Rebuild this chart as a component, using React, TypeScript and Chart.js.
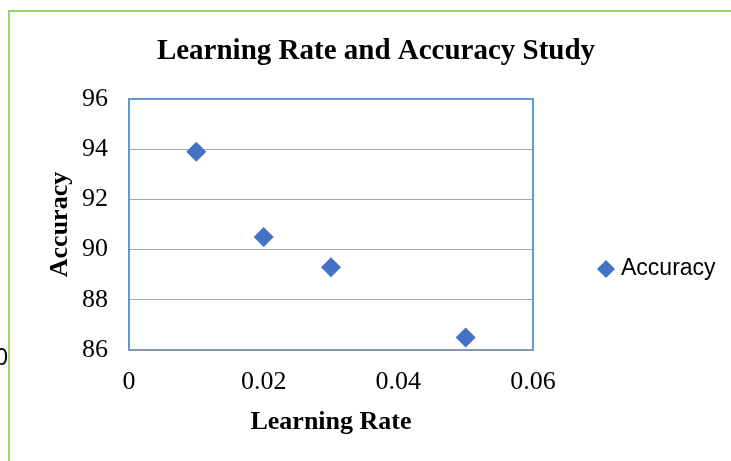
import React, { useEffect, useRef } from "react";
import { Chart, registerables } from "chart.js";

Chart.register(...registerables);

const titleText = "Learning Rate and Accuracy Study";
const xAxisTitle = "Learning Rate";
const yAxisTitle = "Accuracy";
const seriesName = "Accuracy";
const learningRates = [0.01, 0.02, 0.03, 0.05];
const accuracies = [93.9, 90.5, 89.3, 86.5];
const xTicks = [0, 0.02, 0.04, 0.06];
const yTicks = [86, 88, 90, 92, 94, 96];
const strayLabel = "0";

const W = 731;
const H = 461;
const MARKER = "#4472C4";
const SERIF = "'Liberation Serif', 'Times New Roman', serif";
const SANS = "'Liberation Sans', Arial, sans-serif";

const decorPlugin = {
  id: "decor",
  beforeDraw(chart: any) {
    const { ctx } = chart;
    ctx.save();
    ctx.fillStyle = "#ffffff";
    ctx.fillRect(0, 0, W, H);
    ctx.restore();
  },
  afterDraw(chart: any) {
    const { ctx, chartArea: a } = chart;
    ctx.save();
    // title, centred on the whole frame
    ctx.fillStyle = "#000000";
    ctx.font = `bold 29px ${SERIF}`;
    ctx.textAlign = "center";
    ctx.textBaseline = "middle";
    ctx.fillText(titleText, 376, 52);

    // plot border
    ctx.strokeStyle = "#5B9BD5";
    ctx.lineWidth = 2;
    ctx.beginPath();
    ctx.moveTo(a.left, a.bottom);
    ctx.lineTo(a.left, a.top);
    ctx.lineTo(a.right, a.top);
    ctx.lineTo(a.right, a.bottom);
    ctx.stroke();
    ctx.strokeStyle = "#8497B0";
    ctx.beginPath();
    ctx.moveTo(a.left - 1, a.bottom);
    ctx.lineTo(a.right + 1, a.bottom);
    ctx.stroke();

    // legend
    const lx = 606;
    const ly = 269;
    const r = 9;
    ctx.fillStyle = MARKER;
    ctx.beginPath();
    ctx.moveTo(lx, ly - r);
    ctx.lineTo(lx + r, ly);
    ctx.lineTo(lx, ly + r);
    ctx.lineTo(lx - r, ly);
    ctx.closePath();
    ctx.fill();
    ctx.fillStyle = "#000000";
    ctx.font = `23px ${SANS}`;
    ctx.textAlign = "left";
    ctx.textBaseline = "middle";
    ctx.fillText(seriesName, 621, ly);

    // stray label
    ctx.textAlign = "right";
    ctx.fillText(strayLabel, 8, 359);

    // outer green frame
    ctx.strokeStyle = "#9BD56B";
    ctx.lineWidth = 2;
    ctx.beginPath();
    ctx.moveTo(9, H);
    ctx.lineTo(9, 11);
    ctx.lineTo(W, 11);
    ctx.stroke();
    ctx.restore();
  },
};

export default function App() {
  const ref = useRef<HTMLCanvasElement>(null);

  useEffect(() => {
    if (!ref.current) return;
    const chart = new Chart(ref.current, {
      type: "scatter",
      data: {
        datasets: [
          {
            label: seriesName,
            data: learningRates.map((x, i) => ({ x, y: accuracies[i] })),
            pointStyle: "rectRot",
            pointRadius: 10,
            pointHoverRadius: 10,
            backgroundColor: MARKER,
            borderColor: MARKER,
            borderWidth: 0,
          },
        ],
      },
      options: {
        responsive: false,
        animation: false,
        layout: { padding: { left: 0, right: 198, top: 0, bottom: 0 } },
        plugins: {
          legend: { display: false },
          tooltip: { enabled: false },
          title: {
            display: true,
            text: titleText,
            color: "rgba(0,0,0,0)",
            font: { family: SERIF, size: 29, weight: "bold" },
            padding: { top: 32, bottom: 32.2 },
          },
        },
        scales: {
          x: {
            type: "linear",
            min: 0,
            max: 0.06,
            afterBuildTicks: (s: any) => {
              s.ticks = xTicks.map((v) => ({ value: v }));
            },
            afterFit: (s: any) => {
              s.height = 111;
            },
            grid: { display: false, drawTicks: false },
            border: { display: false },
            ticks: {
              color: "#000000",
              font: { family: SERIF, size: 26 },
              padding: 17,
              maxRotation: 0,
              callback: (v: any) => (v === 0 ? "0" : Number(v).toFixed(2)),
            },
            title: {
              display: true,
              text: xAxisTitle,
              color: "#000000",
              font: { family: SERIF, size: 26, weight: "bold" },
              padding: { top: 0, bottom: 23 },
            },
          },
          y: {
            type: "linear",
            min: 86,
            max: 96,
            afterBuildTicks: (s: any) => {
              s.ticks = yTicks.map((v) => ({ value: v }));
            },
            afterFit: (s: any) => {
              s.width = 129;
            },
            grid: {
              color: (c: any) =>
                c.tick && (c.tick.value === 86 || c.tick.value === 96)
                  ? "rgba(0,0,0,0)"
                  : "#A6A6A6",
              lineWidth: 1,
              drawTicks: false,
            },
            border: { display: false },
            ticks: {
              color: "#000000",
              font: { family: SERIF, size: 26 },
              padding: 21,
              callback: (v: any) => String(v),
            },
            title: {
              display: true,
              text: yAxisTitle,
              color: "#000000",
              font: { family: SERIF, size: 26, weight: "bold" },
              padding: { top: 45, bottom: 0 },
            },
          },
        },
      },
      plugins: [decorPlugin],
    });
    return () => chart.destroy();
  }, []);

  return (
    <div style={{ position: "fixed", left: 0, top: 0, width: W, height: H, background: "#fff" }}>
      <canvas ref={ref} width={W} height={H} style={{ display: "block" }} />
    </div>
  );
}
